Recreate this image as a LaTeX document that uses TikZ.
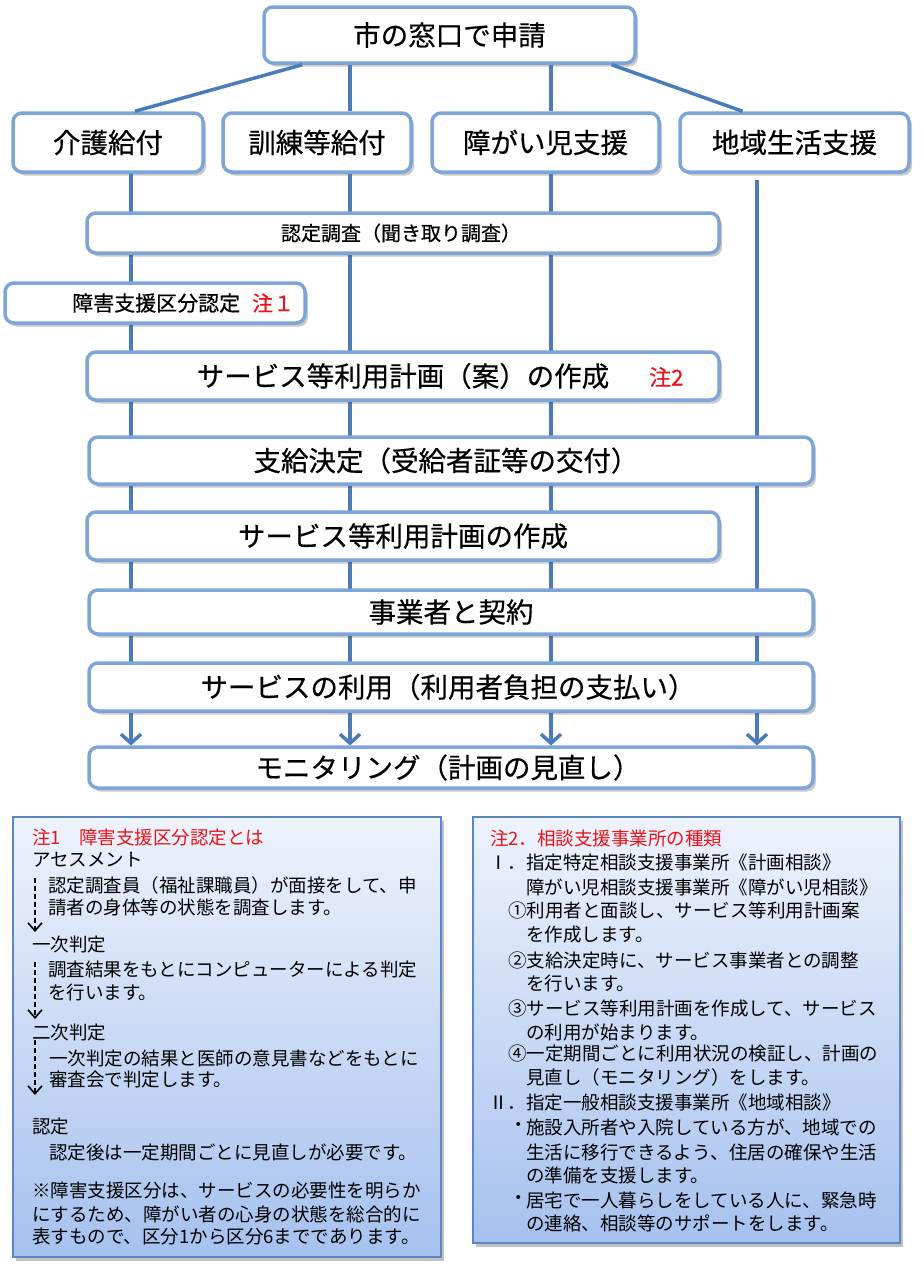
\documentclass[tikz,border=0pt]{standalone}
\usepackage{fontspec}
\setmainfont{Noto Sans CJK JP}
\newfontfamily\jpbold[FakeBold=0.5]{Noto Sans CJK JP}
\usetikzlibrary{shadows,arrows.meta,calc}
\definecolor{boxline}{HTML}{7EA5D8}
\definecolor{connc}{HTML}{4A7CBA}
\definecolor{noteline}{HTML}{5A86C2}
\definecolor{notetop}{HTML}{EEF3FC}
\definecolor{notebot}{HTML}{A5C1EE}
\definecolor{notered}{HTML}{E8141B}
\tikzset{
  flowbox/.style={draw=boxline, line width=3.5pt, fill=white, rounded corners=9pt,
    inner sep=0pt, font=\jpbold\fontsize{27.5}{30}\selectfont,
    drop shadow={shadow xshift=3pt, shadow yshift=-3.5pt, opacity=0.3, fill=black!70}},
  smallbox/.style={flowbox, font=\jpbold\fontsize{20}{22}\selectfont},
  notebox/.style={draw=noteline, line width=2pt, top color=notetop, bottom color=notebot,
    inner sep=0pt,
    drop shadow={shadow xshift=3pt, shadow yshift=-3.5pt, opacity=0.35, fill=black!70}},
  conn/.style={draw=connc, line width=3.5pt},
  connarrow/.style={conn, -{Straight Barb[length=9pt,width=20pt,line width=3.5pt]}},
  dasharrow/.style={draw=black, line width=1.5pt, dash pattern=on 5pt off 3pt,
    -{Straight Barb[length=8pt,width=14pt,line width=1.6pt]}},
  ntext/.style={anchor=west, inner sep=0pt, font=\fontsize{18.5}{20}\selectfont},
  redtext/.style={text=notered}
}
\begin{document}
\begin{tikzpicture}[x=1pt,y=-1pt]
\useasboundingbox (0,0) rectangle (924,1270);
% column coordinates
\coordinate (x1) at (131,0);
\coordinate (x2) at (350,0);
\coordinate (x3) at (551,0);
\coordinate (x4) at (757,0);

\path
  node[flowbox, minimum width=371pt, minimum height=56pt] (top) at (449.5,35) {市の窓口で申請}
  node[flowbox, minimum width=190pt, minimum height=59pt] (kaigo) at (108,142.5) {介護給付}
  node[flowbox, minimum width=188pt, minimum height=59pt] (kunren) at (317,142.5) {訓練等給付}
  node[flowbox, minimum width=227pt, minimum height=59pt] (shougai) at (545.5,142.5) {障がい児支援}
  node[flowbox, minimum width=229pt, minimum height=59pt] (chiiki) at (794.5,142.5) {地域生活支援};

% connectors (behind lower boxes)
\draw[conn] ($(top.south west)+(40,0)$) -- ($(kaigo.north)+(27,0)$);
\draw[conn] ($(top.south east)+(-25,0)$) -- ($(chiiki.north)+(-52,0)$);
\draw[conn] (top.south -| x2) -- (kunren.north -| x2);
\draw[conn] (top.south -| x3) -- (shougai.north -| x3);

\coordinate (monN) at (451,745.5);
\draw[connarrow] (kaigo.south -| x1) -- (monN -| x1);
\draw[connarrow] (kunren.south -| x2) -- (monN -| x2);
\draw[connarrow] (shougai.south -| x3) -- (monN -| x3);
\draw[connarrow] ($(chiiki.south -| x4)+(0,6)$) -- (monN -| x4);

% process boxes
\node[smallbox, minimum width=632pt, minimum height=40pt] (nintei) at (403,233) {\hspace*{-4pt}認定調査（聞き取り調査）};
\node[smallbox, minimum width=300pt, minimum height=40pt] (kubun) at (155,303) {};
\node[ntext, font=\jpbold\fontsize{21}{23}\selectfont] (kubunt) at (72,303) {障害支援区分認定};
\node[ntext, redtext, font=\jpbold\fontsize{21}{23}\selectfont] (chu1) at (252,303) {注１};
\node[flowbox, minimum width=632pt, minimum height=48pt] (plan1) at (403,376) {サービス等利用計画（案）の作成};
\node[ntext, redtext, font=\jpbold\fontsize{22}{24}\selectfont] (chu2) at (649,377) {注2};
\node[flowbox, minimum width=724pt, minimum height=47pt] (shikyu) at (451,460.5) {\hspace*{-10pt}支給決定（受給者証等の交付）};
\node[flowbox, minimum width=632pt, minimum height=48pt] (plan2) at (403,536) {サービス等利用計画の作成};
\node[flowbox, minimum width=724pt, minimum height=44pt] (keiyaku) at (451,612) {事業者と契約};
\node[flowbox, minimum width=724pt, minimum height=48pt] (riyou) at (451,687) {\hspace*{-6pt}サービスの利用（利用者負担の支払い）};
\node[flowbox, minimum width=724pt, minimum height=41pt] (mon) at (451,767.5) {\hspace*{-6pt}モニタリング（計画の見直し）};

% note boxes
\node[notebox, minimum width=428pt, minimum height=440pt] (note1) at (227,1037) {};
\node[notebox, minimum width=427pt, minimum height=426pt] (note2) at (686.5,1030) {};

% note 1 text
\node[ntext, redtext] (n1h) at (32,837) {注1　障害支援区分認定とは};
\node[ntext] (n1a) at (32,860) {アセスメント};
\node[ntext] (n1b) at (48,885) {認定調査員（福祉課職員）が面接をして、申};
\node[ntext] (n1c) at (48,907) {請者の身体等の状態を調査します。};
\node[ntext] (n1d) at (32,945) {一次判定};
\node[ntext] (n1e) at (48,970) {調査結果をもとにコンピューターによる判定};
\node[ntext] (n1f) at (48,992) {を行います。};
\node[ntext] (n1g) at (32,1033) {二次判定};
\node[ntext] (n1i) at (49,1058) {一次判定の結果と医師の意見書などをもとに};
\node[ntext] (n1j) at (49,1080) {審査会で判定します。};
\node[ntext] (n1k) at (32,1127) {認定};
\node[ntext] (n1l) at (49,1152) {認定後は一定期間ごとに見直しが必要です。};
\node[ntext] (n1m) at (32,1191) {※障害支援区分は、サービスの必要性を明らか};
\node[ntext] (n1n) at (32,1214) {にするため、障がい者の心身の状態を総合的に};
\node[ntext] (n1o) at (32,1237) {表すもので、区分1から区分6までであります。};

% dashed arrows
\coordinate (d1s) at (35,878);
\coordinate (d1e) at (35,932);
\coordinate (d2s) at (35,962);
\coordinate (d2e) at (35,1019);
\coordinate (d3s) at (35,1040);
\coordinate (d3e) at (35,1095);
\draw[dasharrow] (d1s) -- (d1e);
\draw[dasharrow] (d2s) -- (d2e);
\draw[dasharrow] (d3s) -- (d3e);

% note 2 text
\node[ntext, redtext] (n2h) at (490,838) {注2．相談支援事業所の種類};
\node[ntext] (n2a) at (489,862) {Ⅰ．指定特定相談支援事業所《計画相談》};
\node[ntext] (n2b) at (526,887) {障がい児相談支援事業所《障がい児相談》};
\node[ntext] (n2c) at (508,910) {①利用者と面談し、サービス等利用計画案};
\node[ntext] (n2d) at (526,935) {を作成します。};
\node[ntext] (n2e) at (508,960) {②支給決定時に、サービス事業者との調整};
\node[ntext] (n2f) at (526,983) {を行います。};
\node[ntext] (n2g) at (508,1008) {③サービス等利用計画を作成して、サービス};
\node[ntext] (n2i) at (526,1032) {の利用が始まります。};
\node[ntext] (n2j) at (508,1053) {④一定期間ごとに利用状況の検証し、計画の};
\node[ntext] (n2k) at (526,1077) {見直し（モニタリング）をします。};
\node[ntext] (n2l) at (489,1102) {Ⅱ．指定一般相談支援事業所《地域相談》};
\node[ntext, anchor=center] (n2b1) at (519,1127) {・};
\node[ntext] (n2m) at (526,1127) {施設入所者や入院している方が、地域での};
\node[ntext] (n2n) at (526,1152) {生活に移行できるよう、住居の確保や生活};
\node[ntext] (n2o) at (526,1175) {の準備を支援します。};
\node[ntext, anchor=center] (n2b2) at (519,1200) {・};
\node[ntext] (n2p) at (526,1200) {居宅で一人暮らしをしている人に、緊急時};
\node[ntext] (n2q) at (526,1223) {の連絡、相談等のサポートをします。};
\end{tikzpicture}
\end{document}
